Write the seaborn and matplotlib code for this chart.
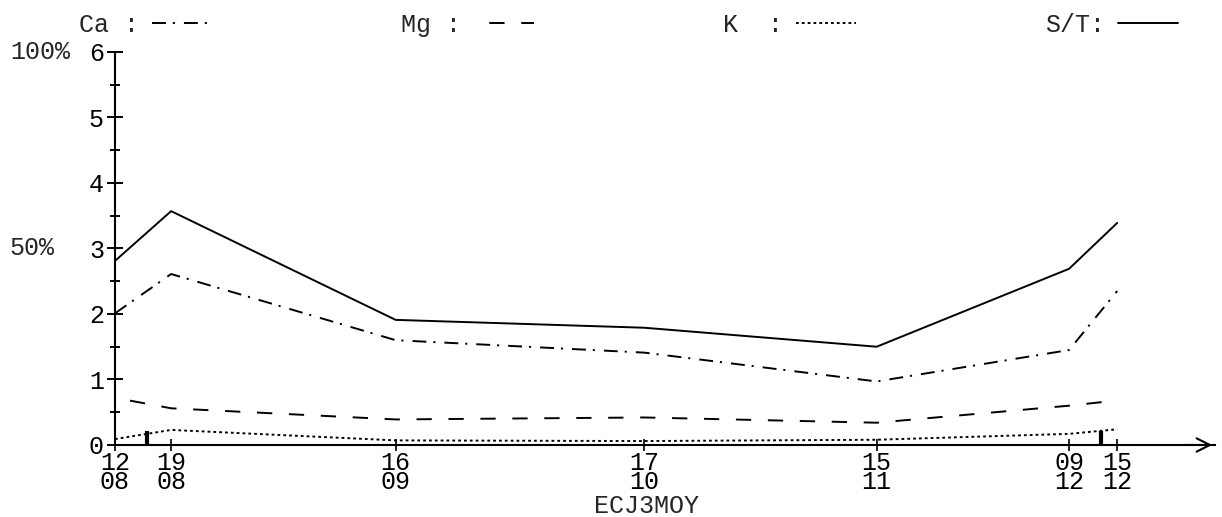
import matplotlib
matplotlib.use("Agg")
import matplotlib.pyplot as plt
import seaborn as sns
import pandas as pd

# ---- data ----
days = [0, 7, 35, 66, 95, 119, 125]
date_labels = ["12\n08", "19\n08", "16\n09", "17\n10", "15\n11", "09\n12", "15\n12"]
ca = [2.01, 2.61, 1.60, 1.41, 0.97, 1.45, 2.35]
mg = [0.72, 0.56, 0.39, 0.42, 0.34, 0.60, 0.68]
k = [0.09, 0.23, 0.07, 0.06, 0.08, 0.17, 0.24]
st = [2.81, 3.57, 1.91, 1.79, 1.50, 2.69, 3.39]
event_days = [4, 123]
y_ticks = [0, 1, 2, 3, 4, 5, 6]
pct_labels = {6: "100%", 3: "50%"}
series_labels = ["Ca :", "Mg :", "K  :", "S/T:"]
xlabel = "ECJ3MOY"

sns.set_style("white")
plt.rcParams["font.family"] = ["Liberation Mono", "DejaVu Sans Mono"]
plt.rcParams["font.weight"] = "normal"
plt.rcParams["lines.scale_dashes"] = False
FS = 18

fig = plt.figure(figsize=(12.22, 5.17), dpi=100)
ax = fig.add_axes([0.0941, 0.1393, 0.9002, 0.7602])

df = pd.DataFrame({"day": days, "Ca": ca, "Mg": mg, "K": k, "S/T": st})
styles = {
    "Ca": (0, (10, 5, 1.5, 6.5)),
    "Mg": (12, (11, 12)),
    "K": (0, (2, 2.2)),
    "S/T": "-",
}
handles = []
for col in ["Ca", "Mg", "K", "S/T"]:
    sns.lineplot(data=df, x="day", y=col, ax=ax, color="black",
                 linewidth=1.4, linestyle=styles[col], legend=False)
    handles.append(ax.get_lines()[-1])

ax.set_xlim(0, 137.2)
ax.set_ylim(0, 6)
sns.despine(ax=ax, top=True, right=True)
ax.spines["left"].set_bounds(0, 6)
for s in ["left", "bottom"]:
    ax.spines[s].set_linewidth(1.5)
    ax.spines[s].set_color("black")

ax.set_yticks(y_ticks)
ax.set_yticklabels([str(v) for v in y_ticks], fontsize=FS)
ax.set_yticks([v + 0.5 for v in y_ticks[:-1]], minor=True)
ax.tick_params(axis="y", which="major", left=True, direction="inout", length=12,
               width=1.4, pad=2, colors="black")
ax.tick_params(axis="y", which="minor", left=True, direction="inout", length=7,
               width=1.4, color="black")

ax.set_xticks(days)
ax.set_xticklabels(date_labels, fontsize=FS, linespacing=0.78)
ax.set_xticks(event_days, minor=True)
ax.tick_params(axis="x", which="major", bottom=True, direction="inout", length=8,
               width=1.2, pad=0, colors="black")
ax.tick_params(axis="x", which="minor", bottom=True, direction="in", length=10,
               width=3, color="black")

for v, lab in pct_labels.items():
    ax.annotate(lab, xy=(0.008, v), xycoords=("figure fraction", "data"),
                ha="left", va="center", fontsize=FS)

ax.set_xlabel(xlabel, fontsize=FS)
ax.set_ylabel("")
ax.xaxis.set_label_coords(0.483, -0.125)

ax.annotate("", xy=(1.0, 0), xytext=(0.97, 0), xycoords="axes fraction",
            arrowprops=dict(arrowstyle="->", lw=1.5, color="black", mutation_scale=24),
            annotation_clip=False)

fig.legend(handles, series_labels, loc="lower left",
           bbox_to_anchor=(0.0646, 0.929, 0.8994, 0.07), mode="expand", ncol=4,
           markerfirst=False, frameon=False, handlelength=2.4, handletextpad=0.52,
           fontsize=FS, borderaxespad=0, borderpad=0)

fig.savefig("out.png", dpi=100, facecolor="white")
